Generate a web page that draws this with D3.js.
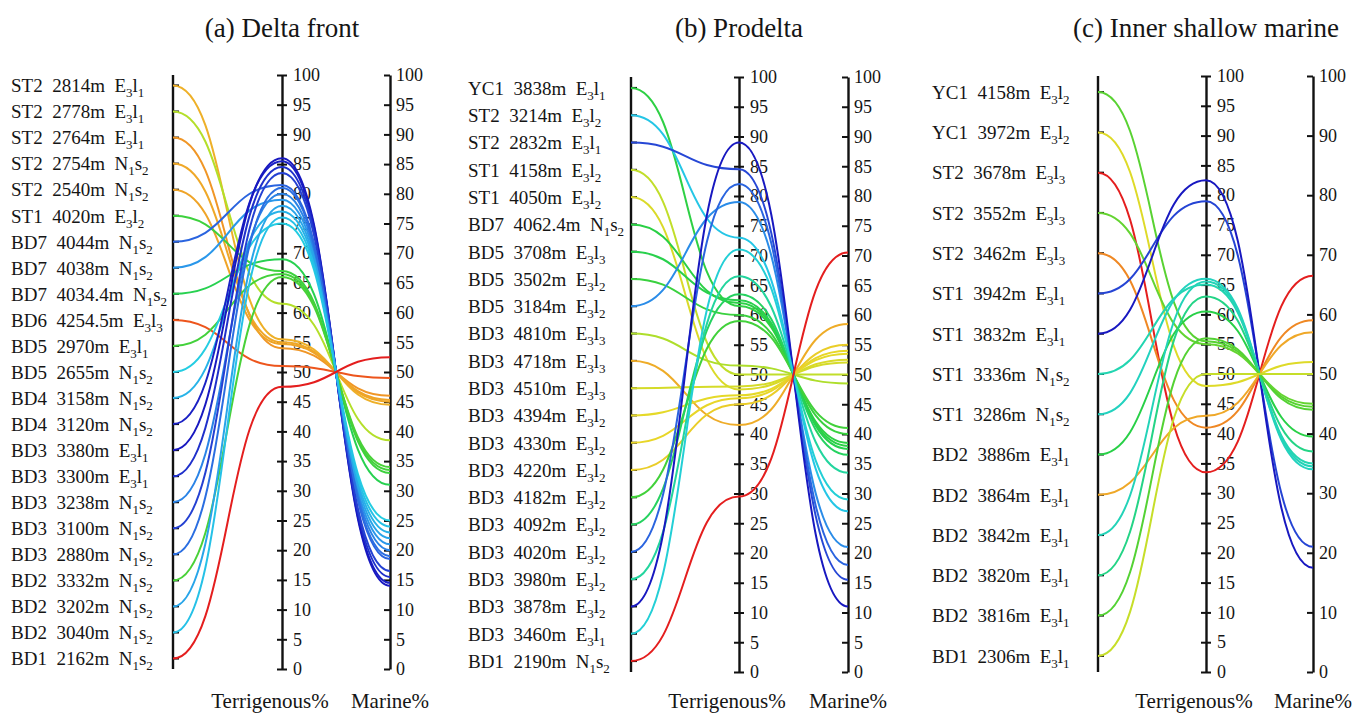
<!DOCTYPE html>
<html><head><meta charset="utf-8">
<script src="https://cdn.jsdelivr.net/npm/d3@7"></script>
<style>
body{margin:0;background:#fff}
text{font-family:"Liberation Serif","Times New Roman",serif;fill:#151515}
</style>
</head><body>
<svg id="chart" width="1357" height="713"></svg>
<script>
// ---------- DATA ----------
const titles = ["(a) Delta front", "(b) Prodelta", "(c) Inner shallow marine"];

// Panel (a) Delta front
const wellsA = ["ST2","ST2","ST2","ST2","ST2","ST1","BD7","BD7","BD7","BD6","BD5","BD5","BD4","BD4","BD3","BD3","BD3","BD3","BD3","BD2","BD2","BD2","BD1"];
const depthsA = ["2814m","2778m","2764m","2754m","2540m","4020m","4044m","4038m","4034.4m","4254.5m","2970m","2655m","3158m","3120m","3380m","3300m","3238m","3100m","2880m","3332m","3202m","3040m","2162m"];
const formationsA = ["E3l1","E3l1","E3l1","N1s2","N1s2","E3l2","N1s2","N1s2","N1s2","E3l3","E3l1","N1s2","N1s2","N1s2","E3l1","E3l1","N1s2","N1s2","N1s2","N1s2","N1s2","N1s2","N1s2"];
const terrigenousA = [55.5,61.5,54,55,54.7,67,81.5,79,69,51,66.5,75,77,85.5,86,84.5,80,83.5,81,66,78,76,47.5];
const marineA      = [44.5,38.5,46,45,45.3,33,18.5,21,31,49,33.5,25,23,14.5,14,15.5,20,16.5,19,34,22,24,52.5];

// Panel (b) Prodelta
const wellsB = ["YC1","ST2","ST2","ST1","ST1","BD7","BD5","BD5","BD5","BD3","BD3","BD3","BD3","BD3","BD3","BD3","BD3","BD3","BD3","BD3","BD3","BD1"];
const depthsB = ["3838m","3214m","2832m","4158m","4050m","4062.4m","3708m","3502m","3184m","4810m","4718m","4510m","4394m","4330m","4220m","4182m","4092m","4020m","3980m","3878m","3460m","2190m"];
const formationsB = ["E3l1","E3l2","E3l1","E3l2","E3l2","N1s2","E3l3","E3l2","E3l2","E3l3","E3l3","E3l3","E3l2","E3l2","E3l2","E3l2","E3l2","E3l2","E3l2","E3l2","E3l1","N1s2"];
const terrigenousB = [61.5,73,84.5,50,47.5,62,62.5,60,79,51.5,41.5,48,46.5,46,45,59,63.5,82,66.5,89,71,29.5];
const marineB      = [38.5,27,15.5,50,52.5,38,37.5,40,21,48.5,58.5,52,53.5,54,55,41,36.5,18,33.5,11,29,70.5];

// Panel (c) Inner shallow marine
const wellsC = ["YC1","YC1","ST2","ST2","ST2","ST1","ST1","ST1","ST1","BD2","BD2","BD2","BD2","BD2","BD1"];
const depthsC = ["4158m","3972m","3678m","3552m","3462m","3942m","3832m","3336m","3286m","3886m","3864m","3842m","3820m","3816m","2306m"];
const formationsC = ["E3l2","E3l2","E3l3","E3l3","E3l3","E3l1","E3l1","N1s2","N1s2","E3l1","E3l1","E3l1","E3l1","E3l1","E3l1"];
const terrigenousC = [55.5,48,33.5,55,41,79,82.5,65,66,60.5,43,65.5,63,56,50];
const marineC      = [44.5,52,66.5,45,59,21,17.5,35,34,39.5,57,34.5,37,44,50];

const terrTicks = d3.range(0, 101, 5);
const marineTicksAB = d3.range(0, 101, 5);
const marineTicksC = d3.range(0, 101, 10);
const axisTitles = ["Terrigenous%", "Marine%"];

// ---------- LAYOUT ----------
const panels = [
  {title: titles[0], wells: wellsA, depths: depthsA, forms: formationsA, terr: terrigenousA, mar: marineA, mTicks: marineTicksAB,
   xL: 173, xT: 282, xM: 390, yTop: 75, yBot: 669, labelX: 11},
  {title: titles[1], wells: wellsB, depths: depthsB, forms: formationsB, terr: terrigenousB, mar: marineB, mTicks: marineTicksAB,
   xL: 631, xT: 739, xM: 848, yTop: 77, yBot: 672, labelX: 468},
  {title: titles[2], wells: wellsC, depths: depthsC, forms: formationsC, terr: terrigenousC, mar: marineC, mTicks: marineTicksC,
   xL: 1098, xT: 1206, xM: 1313, yTop: 76, yBot: 672, labelX: 932}
];

// jet-like palette: 0 = lowest terrigenous (red) ... 1 = highest (dark blue)
const palette = d3.scaleLinear()
  .domain([0, .1, .18, .28, .36, .45, .55, .63, .72, .82, .9, 1])
  .range(["#e41e1e","#ee5a1c","#f0a028","#e8d828","#b8e02a","#58d232","#28d046","#22d6a8","#24cce6","#2a96ea","#2a56dc","#1818c0"])
  .interpolate(d3.interpolateRgb);

const svg = d3.select("#chart");

panels.forEach(p => {
  const g = svg.append("g");
  const y = d3.scaleLinear().domain([0, 100]).range([p.yBot, p.yTop]);
  const n = p.wells.length;
  const pos = d3.scalePoint().domain(d3.range(n)).range([p.yTop, p.yBot]).padding(0.4);
  const cScale = d3.scaleLinear().domain(d3.extent(p.terr)).range([0, 1]);

  // title
  g.append("text").attr("x", p.xT).attr("y", 37).attr("text-anchor", "middle")
    .style("font-size", "27px").text(p.title);

  // left (sample) axis
  g.append("line").attr("x1", p.xL).attr("x2", p.xL).attr("y1", p.yTop).attr("y2", p.yBot)
    .attr("stroke", "#111").attr("stroke-width", 2.4);
  g.selectAll(".stick").data(d3.range(n)).join("line")
    .attr("x1", p.xL).attr("x2", p.xL + 6)
    .attr("y1", i => pos(i)).attr("y2", i => pos(i))
    .attr("stroke", "#111").attr("stroke-width", 2);

  // sample labels
  d3.range(n).forEach(i => {
    const t = g.append("text").attr("x", p.labelX).attr("y", pos(i)).attr("dy", "0.36em")
      .style("font-size", "19px").style("white-space", "pre");
    t.append("tspan").text(p.wells[i] + "  " + p.depths[i] + "  ");
    const parts = p.forms[i].match(/[A-Za-z]|\d/g);
    let sub = false;
    parts.forEach(ch => {
      const isDigit = /\d/.test(ch);
      const ts = t.append("tspan").text(ch);
      if (isDigit && !sub) { ts.attr("dy", 5).style("font-size", "13px"); sub = true; }
      else if (isDigit && sub) { ts.style("font-size", "13px"); }
      else if (!isDigit && sub) { ts.attr("dy", -5); sub = false; }
    });
  });

  // terrigenous axis
  const tAxis = g.append("g").attr("transform", `translate(${p.xT},0)`)
    .call(d3.axisRight(y).tickValues(terrTicks).tickSize(5).tickSizeOuter(0).tickPadding(6));
  tAxis.select(".domain").attr("stroke", "#111").attr("stroke-width", 2.4);
  tAxis.selectAll(".tick line").attr("x1", -5).attr("stroke", "#111").attr("stroke-width", 2);
  tAxis.selectAll(".tick text").style("font-size", "18px").style("font-family", '"Liberation Serif",serif').attr("fill", "#151515");

  // marine axis
  const mAxis = g.append("g").attr("transform", `translate(${p.xM},0)`)
    .call(d3.axisRight(y).tickValues(p.mTicks).tickSize(0).tickSizeOuter(0).tickPadding(6));
  mAxis.select(".domain").attr("stroke", "#111").attr("stroke-width", 2.4);
  mAxis.selectAll(".tick line").attr("x1", -6).attr("x2", 0).attr("stroke", "#111").attr("stroke-width", 2);
  mAxis.selectAll(".tick text").style("font-size", "18px").style("font-family", '"Liberation Serif",serif').attr("fill", "#151515");

  // axis titles
  g.append("text").attr("x", p.xT - 12).attr("y", 708).attr("text-anchor", "middle")
    .style("font-size", "21px").text(axisTitles[0]);
  g.append("text").attr("x", p.xM).attr("y", 708).attr("text-anchor", "middle")
    .style("font-size", "21px").text(axisTitles[1]);

  // curves
  const line = d3.line().curve(d3.curveBumpX);
  g.selectAll(".curve").data(d3.range(n)).join("path")
    .attr("fill", "none")
    .attr("stroke-width", 2)
    .attr("stroke", i => palette(cScale(p.terr[i])))
    .attr("d", i => line([[p.xL, pos(i)], [p.xT, y(p.terr[i])], [p.xM, y(p.mar[i])]]));
});
</script>
</body></html>
